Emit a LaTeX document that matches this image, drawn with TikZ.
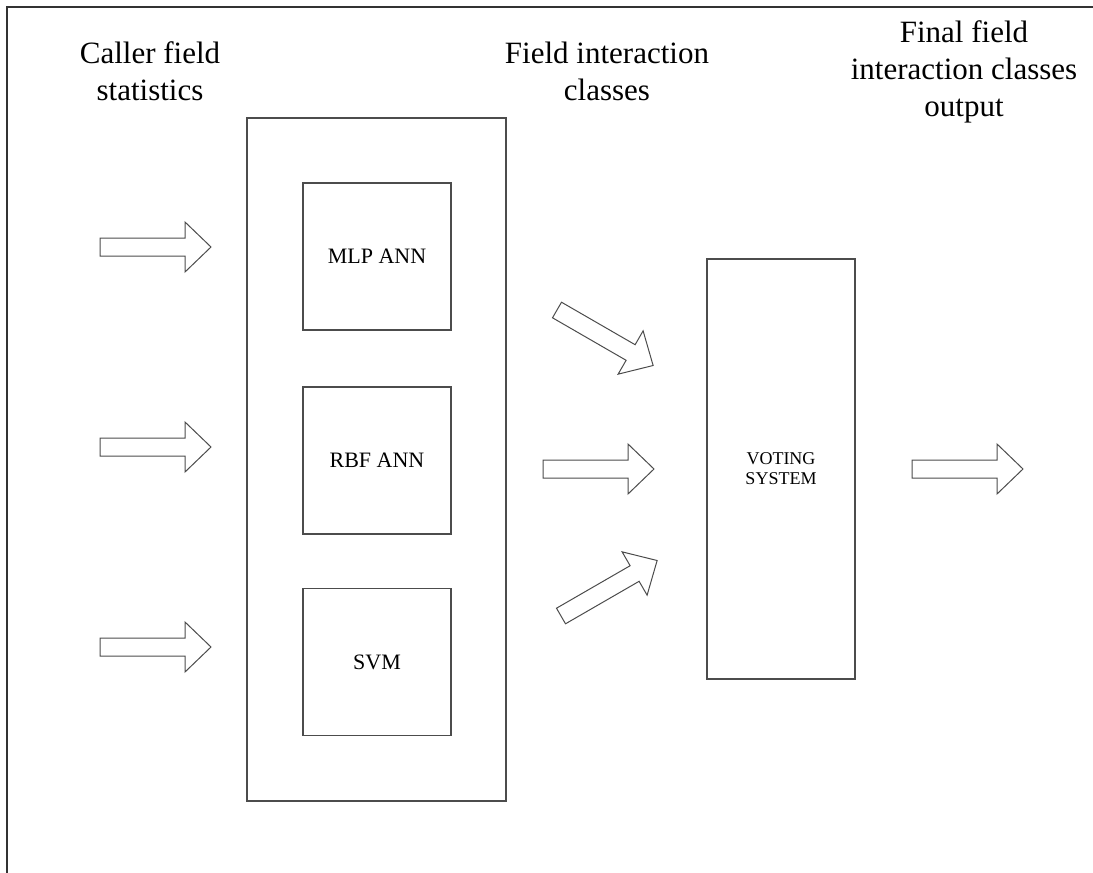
\documentclass[tikz,border=0pt]{standalone}
\usepackage{fontspec}
\setmainfont{Liberation Serif}
\begin{document}
\begin{tikzpicture}[x=1pt,y=-1pt,
  box/.style={draw=black!70, line width=1.1pt, inner sep=0pt, font=\fontsize{22}{26}\selectfont},
  heading/.style={align=center, font=\fontsize{31}{37}\selectfont, inner sep=0pt},
  fat/.pic={\draw[draw=black!70, line width=1pt, line join=miter] (0,9) -- (85,9) -- (85,25) -- (111,0) -- (85,-25) -- (85,-9) -- (0,-9) -- cycle;}]
\useasboundingbox (0,0) rectangle (1093,873);
\draw[black!80, line width=1.3pt] (7,873) -- (7,7) -- (1093,7);

\node[heading] (h1) at (150,71) {Caller field\\statistics};
\node[heading] (h2) at (607,71) {Field interaction\\classes};
\node[heading] (h3) at (964,72) {Final field\\interaction classes\\output};

\node[box, minimum width=259, minimum height=683] (outer) at (376.5,459.5) {};
\node[box, minimum width=148, minimum height=147] (mlp) at (377,256.5) {MLP ANN};
\node[box, minimum width=148, minimum height=147] (rbf) at (377,460.5) {RBF ANN};
\node[box, minimum width=148, minimum height=147] (svm) at (377,662) {SVM};
\node[box, minimum width=148, minimum height=420, align=center, font=\fontsize{18}{20}\selectfont] (vote) at (781,469) {VOTING\\SYSTEM};

\pic at (100,247) {fat};
\pic at (100,447) {fat};
\pic at (100,647) {fat};
\pic[rotate=-30] at (557,310) {fat};
\pic at (543,469) {fat};
\pic[rotate=30] at (561,616) {fat};
\pic at (912,469) {fat};
\end{tikzpicture}
\end{document}
